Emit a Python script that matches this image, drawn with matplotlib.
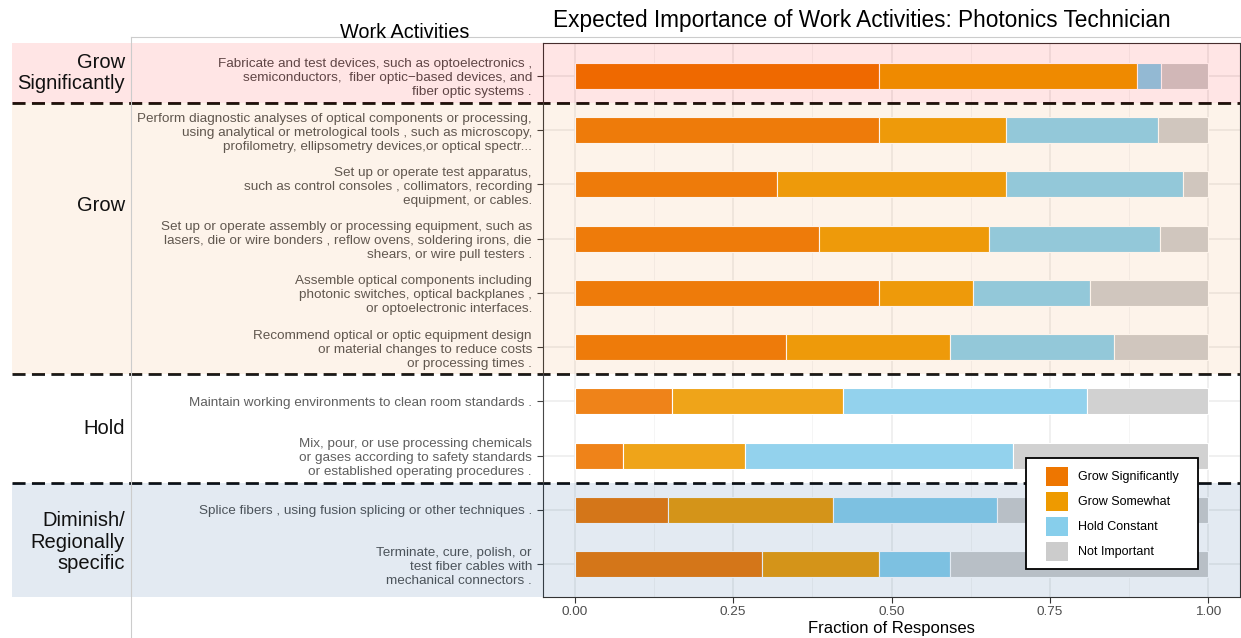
import numpy as np
import matplotlib.pyplot as plt
import matplotlib.transforms as mtransforms
from matplotlib.patches import Rectangle, Patch
from matplotlib.lines import Line2D

# data (fraction of responses)
activities = [
    "Fabricate and test devices, such as optoelectronics ,\nsemiconductors,  fiber optic\u2212based devices, and\nfiber optic systems .",
    "Perform diagnostic analyses of optical components or processing,\nusing analytical or metrological tools , such as microscopy,\nprofilometry, ellipsometry devices,or optical spectr...",
    "Set up or operate test apparatus,\nsuch as control consoles , collimators, recording\nequipment, or cables.",
    "Set up or operate assembly or processing equipment, such as\nlasers, die or wire bonders , reflow ovens, soldering irons, die\nshears, or wire pull testers .",
    "Assemble optical components including\nphotonic switches, optical backplanes ,\nor optoelectronic interfaces.",
    "Recommend optical or optic equipment design\nor material changes to reduce costs\nor processing times .",
    "Maintain working environments to clean room standards .",
    "Mix, pour, or use processing chemicals\nor gases according to safety standards\nor established operating procedures .",
    "Splice fibers , using fusion splicing or other techniques .",
    "Terminate, cure, polish, or\ntest fiber cables with\nmechanical connectors .",
]
grow_sig = [0.481, 0.480, 0.320, 0.385, 0.481, 0.333, 0.154, 0.077, 0.148, 0.296]
grow_some = [0.407, 0.200, 0.360, 0.269, 0.148, 0.259, 0.269, 0.192, 0.259, 0.185]
hold_const = [0.037, 0.240, 0.280, 0.269, 0.185, 0.259, 0.385, 0.423, 0.259, 0.111]
not_imp = [0.074, 0.080, 0.040, 0.077, 0.185, 0.148, 0.192, 0.308, 0.333, 0.407]
series_names = ["Grow Significantly", "Grow Somewhat", "Hold Constant", "Not Important"]

group_names = ["Grow\nSignificantly", "Grow", "Hold", "Diminish/\nRegionally\nspecific"]
group_sizes = [1, 5, 2, 2]

# styles
series_colors = ["#EE7600", "#EE9A00", "#87CEEB", "#CCCCCC"]
band_colors = ["#FF0000", "#F0A05A", "#FFFFFF", "#4678AA"]
band_alpha = [0.10, 0.12, 0.10, 0.15]
group_label_ypx = [73, 205, 428, 542]

W, H = 1241, 638
plt.rcParams['font.family'] = ['Liberation Sans', 'DejaVu Sans']

fig = plt.figure(figsize=(W / 100, H / 100), dpi=100)
ax = fig.add_axes([543 / W, 1 - 596.7 / H, (1240 - 543) / W, (596.7 - 43.3) / H])

y = np.arange(len(activities))
left = np.zeros(len(activities))
for vals, col in zip([grow_sig, grow_some, hold_const, not_imp], series_colors):
    ax.barh(y, vals, left=left, height=0.48, color=col, edgecolor='white', linewidth=0.8, zorder=1)
    left = left + np.array(vals)

ax.set_xlim(-0.05, 1.05)
ax.set_ylim(len(activities) - 0.4, -0.6)
ax.set_xticks([0, 0.25, 0.5, 0.75, 1.0])
ax.set_xticklabels(["0.00", "0.25", "0.50", "0.75", "1.00"])
ax.set_xticks([0.125, 0.375, 0.625, 0.875], minor=True)
ax.set_yticks(y)
ax.set_yticklabels(activities, linespacing=1.22)
for t in ax.get_yticklabels():
    t.set_multialignment('right')
ax.set_axisbelow(True)
ax.grid(which='major', color='#EBEBEB', lw=1.1)
ax.grid(which='minor', axis='x', color='#F3F3F3', lw=0.6)
ax.tick_params(axis='both', which='major', length=4, width=0.8, color='#333333',
               labelsize=9.7, labelcolor='#4D4D4D', pad=4)
ax.tick_params(axis='x', pad=2.5)
ax.tick_params(which='minor', length=0)
for s in ax.spines.values():
    s.set_color('#333333')
    s.set_linewidth(0.8)
ax.set_xlabel("Fraction of Responses", fontsize=12, labelpad=2)

# group bands and separators
trans = mtransforms.blended_transform_factory(fig.transFigure, ax.transData)
edges = np.concatenate([[-0.6], np.cumsum(group_sizes) - 0.5])
edges[-1] = len(activities) - 0.4
for i, name in enumerate(group_names):
    ax.add_patch(Rectangle((12 / W, edges[i]), (1240 - 12) / W, edges[i + 1] - edges[i],
                           transform=trans, facecolor=band_colors[i], alpha=band_alpha[i],
                           lw=0, clip_on=False, zorder=3))
    fig.text(125 / W, 1 - group_label_ypx[i] / H, name, ha='right', va='center',
             fontsize=14.5, color='#111111', linespacing=1.17)
for e in edges[1:-1]:
    ax.add_line(Line2D([12 / W, 1240 / W], [e, e], transform=trans, color='black', lw=2,
                       linestyle=(0, (4.7, 2.3)), clip_on=False, zorder=2))

# frame lines for the label column
fig.add_artist(Line2D([131 / W, 131 / W], [0, 1 - 37 / H], color='#CCCCCC', lw=0.8, zorder=1))
fig.add_artist(Line2D([131 / W, 1], [1 - 37 / H, 1 - 37 / H], color='#CCCCCC', lw=0.8, zorder=1))
fig.text(405 / W, 1 - 33 / H, "Work Activities", ha='center', va='center', fontsize=14.3)
fig.text(862 / W, 1 - 20 / H, "Expected Importance of Work Activities: Photonics Technician",
         ha='center', va='center', fontsize=16.3)

# legend
handles = [Patch(facecolor=c, edgecolor='none') for c in series_colors]
leg = fig.legend(handles, series_names, loc='upper left',
                 bbox_to_anchor=(1046 / W, 1 - 466.7 / H), bbox_transform=fig.transFigure,
                 frameon=False, fontsize=9, borderpad=0, borderaxespad=0,
                 handlelength=1.75, handleheight=2.0, labelspacing=0.45, handletextpad=0.8)
leg.set_zorder(6)
fig.canvas.draw()
bb = leg.get_window_extent()
fig.add_artist(Rectangle(((bb.x0 - 20) / W, (bb.y0 - 8.5) / H), (bb.width + 39) / W,
                         (bb.height + 17) / H, transform=fig.transFigure,
                         facecolor='white', edgecolor='black', lw=1.3, zorder=5))

fig.savefig("out.png", dpi=100)
